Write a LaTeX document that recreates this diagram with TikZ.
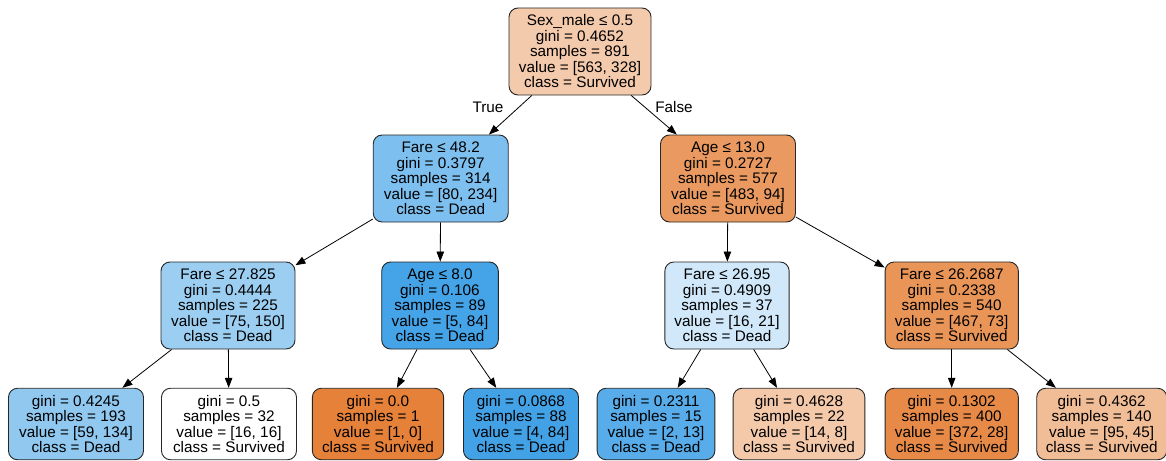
\documentclass[tikz,border=0pt]{standalone}
\usepackage{fontspec}
\setmainfont{Liberation Sans}
\usetikzlibrary{arrows.meta}
\definecolor{sorange}{RGB}{229,129,57}
\definecolor{sblue}{RGB}{57,157,229}
\begin{document}
\begin{tikzpicture}[x=1pt,y=-1pt,
  tnode/.style={draw=black!85, line width=0.9pt, rounded corners=9pt, align=center, inner sep=2pt, minimum height=87pt, font=\fontsize{15.3}{15.5}\selectfont},
  leaf/.style={tnode, minimum height=71.5pt},
  edge/.style={draw=black, line width=0.8pt, -{Triangle[length=10pt,width=7.5pt]}},
  lbl/.style={font=\fontsize{15.3}{15.5}\selectfont, inner sep=0pt}]
\useasboundingbox (0,0) rectangle (1166,460);
% level 1
\node[tnode, minimum width=142pt, fill=sorange!41.8!white] (root) at (580,51.5) {Sex\_male ≤ 0.5\\gini = 0.4652\\samples = 891\\value = [563, 328]\\class = Survived};
% level 2
\node[tnode, minimum width=135pt, fill=sblue!65.8!white] (n1) at (440.7,178.5) {Fare ≤ 48.2\\gini = 0.3797\\samples = 314\\value = [80, 234]\\class = Dead};
\node[tnode, minimum width=135pt, fill=sorange!80.5!white] (n2) at (728,178.5) {Age ≤ 13.0\\gini = 0.2727\\samples = 577\\value = [483, 94]\\class = Survived};
% level 3
\node[tnode, minimum width=134pt, fill=sblue!50!white] (n3) at (228,305.5) {Fare ≤ 27.825\\gini = 0.4444\\samples = 225\\value = [75, 150]\\class = Dead};
\node[tnode, minimum width=116.6pt, fill=sblue!94!white] (n4) at (440,305.5) {Age ≤ 8.0\\gini = 0.106\\samples = 89\\value = [5, 84]\\class = Dead};
\node[tnode, minimum width=124.3pt, fill=sblue!23.8!white] (n5) at (727,305.5) {Fare ≤ 26.95\\gini = 0.4909\\samples = 37\\value = [16, 21]\\class = Dead};
\node[tnode, minimum width=133.3pt, fill=sorange!84.4!white] (n6) at (951.7,305.5) {Fare ≤ 26.2687\\gini = 0.2338\\samples = 540\\value = [467, 73]\\class = Survived};
% leaves
\node[leaf, minimum width=135pt, fill=sblue!56!white] (l1) at (76,424) {gini = 0.4245\\samples = 193\\value = [59, 134]\\class = Dead};
\node[leaf, minimum width=135pt, fill=white] (l2) at (229,424) {gini = 0.5\\samples = 32\\value = [16, 16]\\class = Survived};
\node[leaf, minimum width=131.3pt, fill=sorange] (l3) at (378,424) {gini = 0.0\\samples = 1\\value = [1, 0]\\class = Survived};
\node[leaf, minimum width=115pt, fill=sblue!95.2!white] (l4) at (521,424) {gini = 0.0868\\samples = 88\\value = [4, 84]\\class = Dead};
\node[leaf, minimum width=117.7pt, fill=sblue!84.6!white] (l5) at (656,424) {gini = 0.2311\\samples = 15\\value = [2, 13]\\class = Dead};
\node[leaf, minimum width=131.7pt, fill=sorange!42.9!white] (l6) at (799,424) {gini = 0.4628\\samples = 22\\value = [14, 8]\\class = Survived};
\node[leaf, minimum width=133.3pt, fill=sorange!92.5!white] (l7) at (951.7,424) {gini = 0.1302\\samples = 400\\value = [372, 28]\\class = Survived};
\node[leaf, minimum width=130pt, fill=sorange!52.6!white] (l8) at (1101.7,424) {gini = 0.4362\\samples = 140\\value = [95, 45]\\class = Survived};
% edge labels
\node[lbl] (tl) at (488,107) {True};
\node[lbl] (fl) at (674,107) {False};
% edges
\draw[edge] (root) -- (n1);
\draw[edge] (root) -- (n2);
\draw[edge] (n1) -- (n3);
\draw[edge] (n1) -- (n4);
\draw[edge] (n2) -- (n5);
\draw[edge] (n2) -- (n6);
\draw[edge] (n3) -- (l1);
\draw[edge] (n3) -- (l2);
\draw[edge] (n4) -- (l3);
\draw[edge] (n4) -- (l4);
\draw[edge] (n5) -- (l5);
\draw[edge] (n5) -- (l6);
\draw[edge] (n6) -- (l7);
\draw[edge] (n6) -- (l8);
\end{tikzpicture}
\end{document}
